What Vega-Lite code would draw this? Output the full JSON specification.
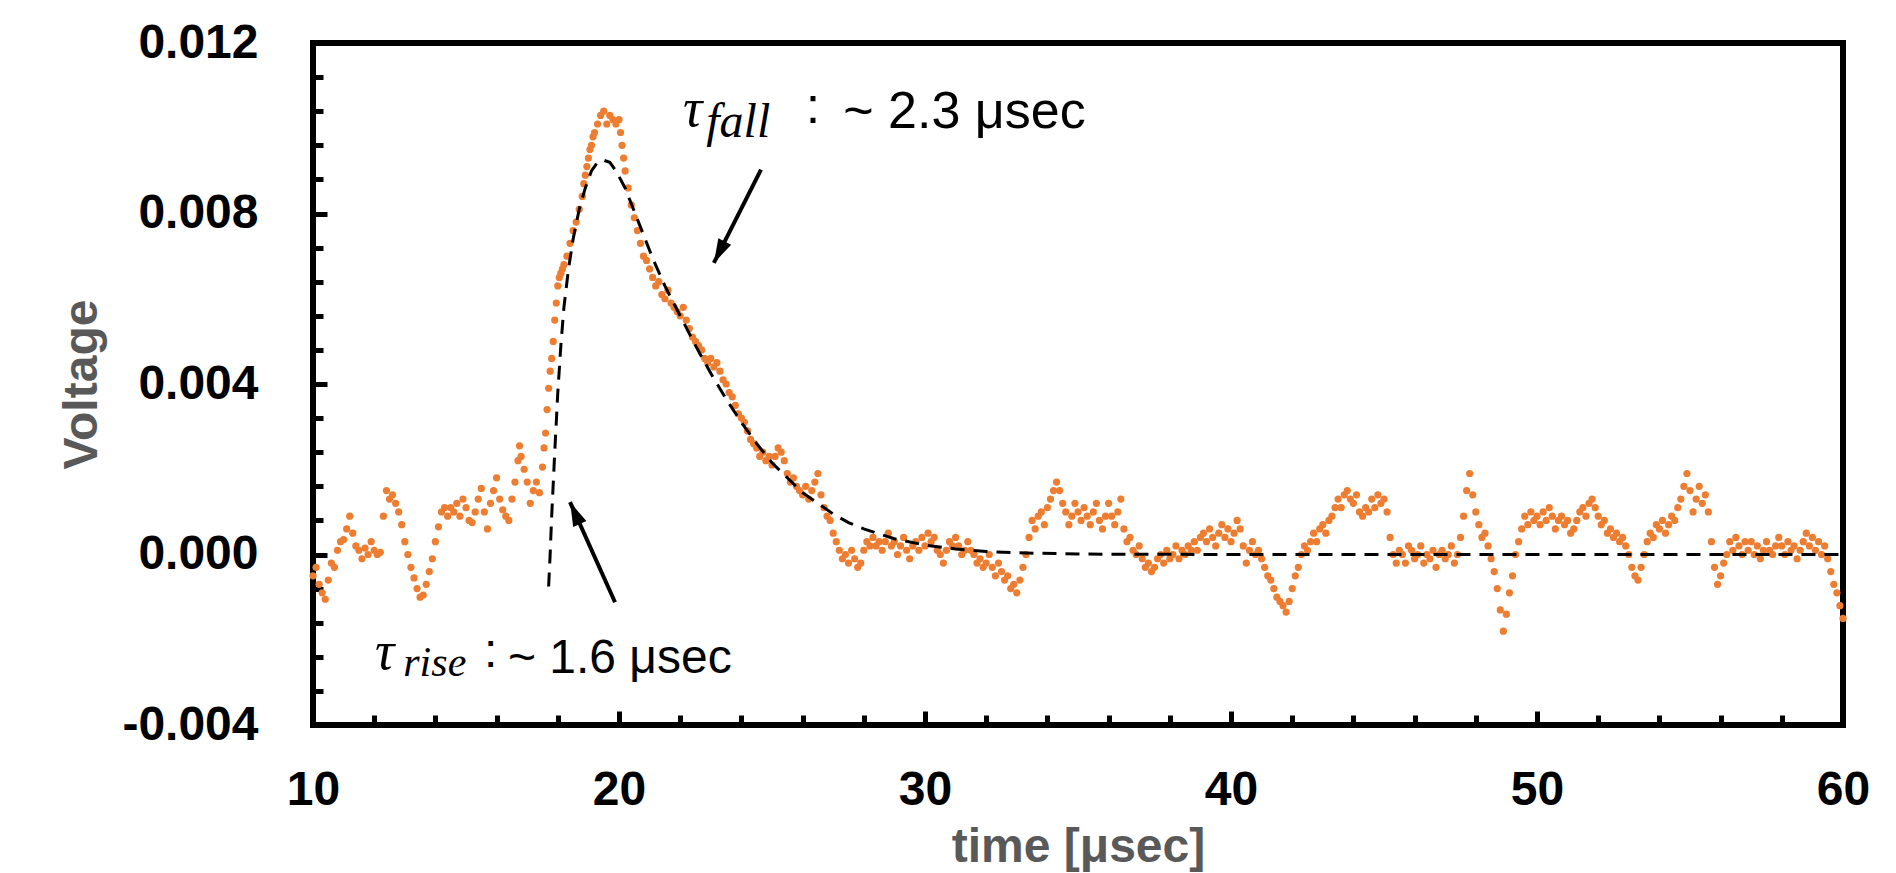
{
  "$schema": "https://vega.github.io/schema/vega-lite/v6.json",
  "width": 1530,
  "height": 682,
  "autosize": "none",
  "padding": {"left": 313, "top": 43, "right": 53, "bottom": 148},
  "background": "white",
  "config": {
    "view": {"stroke": "black", "strokeWidth": 6},
    "font": "Liberation Sans"
  },
  "datasets": {
    "trace": [
      {"t":10.0,"v":-0.0005},{"t":10.1,"v":-0.0003},{"t":10.2,"v":-0.0007},{"t":10.3,"v":-0.0009},{"t":10.4,"v":-0.00105},{"t":10.5,"v":-0.0006},{"t":10.6,"v":-0.0002},{"t":10.7,"v":-0.0003},{"t":10.8,"v":0.0001},{"t":10.9,"v":0.0003},
      {"t":11.0,"v":0.00035},{"t":11.1,"v":0.0006},{"t":11.2,"v":0.0009},{"t":11.3,"v":0.0005},{"t":11.4,"v":0.0002},{"t":11.5,"v":0.0001},{"t":11.6,"v":-0.0001},{"t":11.7,"v":0.00015},{"t":11.8,"v":0.0},{"t":11.9,"v":0.0003},
      {"t":12.0,"v":0.0001},{"t":12.1,"v":0.0},{"t":12.2,"v":0.00005},{"t":12.3,"v":0.0009},{"t":12.4,"v":0.0015},{"t":12.5,"v":0.0013},{"t":12.6,"v":0.0014},{"t":12.7,"v":0.0012},{"t":12.8,"v":0.001},{"t":12.9,"v":0.0007},
      {"t":13.0,"v":0.0003},{"t":13.1,"v":0.0},{"t":13.2,"v":-0.0003},{"t":13.3,"v":-0.00055},{"t":13.4,"v":-0.0008},{"t":13.5,"v":-0.001},{"t":13.6,"v":-0.00095},{"t":13.7,"v":-0.0007},{"t":13.8,"v":-0.0004},{"t":13.9,"v":-0.0001},
      {"t":14.0,"v":0.0003},{"t":14.1,"v":0.00065},{"t":14.2,"v":0.001},{"t":14.3,"v":0.0011},{"t":14.4,"v":0.0009},{"t":14.5,"v":0.0011},{"t":14.6,"v":0.001},{"t":14.7,"v":0.0012},{"t":14.8,"v":0.0009},{"t":14.9,"v":0.0013},
      {"t":15.0,"v":0.0011},{"t":15.1,"v":0.0008},{"t":15.2,"v":0.00075},{"t":15.3,"v":0.001},{"t":15.4,"v":0.0013},{"t":15.5,"v":0.00155},{"t":15.6,"v":0.001},{"t":15.7,"v":0.0006},{"t":15.8,"v":0.0012},{"t":15.9,"v":0.0015},
      {"t":16.0,"v":0.0018},{"t":16.1,"v":0.0013},{"t":16.2,"v":0.00105},{"t":16.3,"v":0.0009},{"t":16.4,"v":0.0008},{"t":16.5,"v":0.0013},{"t":16.6,"v":0.0017},{"t":16.7,"v":0.0022},{"t":16.75,"v":0.00255},{"t":16.8,"v":0.0023},{"t":16.9,"v":0.002},
      {"t":17.0,"v":0.0017},{"t":17.1,"v":0.0012},{"t":17.2,"v":0.0015},{"t":17.3,"v":0.0017},{"t":17.4,"v":0.00145},{"t":17.5,"v":0.00205},{"t":17.55,"v":0.0025},{"t":17.6,"v":0.00285},{"t":17.65,"v":0.0034},{"t":17.7,"v":0.0039},{"t":17.75,"v":0.0043},{"t":17.8,"v":0.0046},{"t":17.85,"v":0.005},{"t":17.9,"v":0.0055},{"t":17.95,"v":0.0059},
      {"t":18.0,"v":0.0063},{"t":18.05,"v":0.0065},{"t":18.1,"v":0.0066},{"t":18.15,"v":0.0067},{"t":18.2,"v":0.0068},{"t":18.3,"v":0.007},{"t":18.4,"v":0.0073},{"t":18.5,"v":0.0076},{"t":18.6,"v":0.0078},{"t":18.7,"v":0.0081},{"t":18.8,"v":0.0084},{"t":18.85,"v":0.0087},{"t":18.9,"v":0.0089},{"t":18.95,"v":0.0091},
      {"t":19.0,"v":0.0093},{"t":19.05,"v":0.0095},{"t":19.1,"v":0.0096},{"t":19.15,"v":0.0098},{"t":19.2,"v":0.0099},{"t":19.3,"v":0.0101},{"t":19.4,"v":0.0103},{"t":19.5,"v":0.0104},{"t":19.6,"v":0.0101},{"t":19.7,"v":0.0103},{"t":19.8,"v":0.0102},{"t":19.9,"v":0.0101},
      {"t":20.0,"v":0.0102},{"t":20.05,"v":0.0099},{"t":20.1,"v":0.0096},{"t":20.15,"v":0.0093},{"t":20.2,"v":0.009},{"t":20.3,"v":0.0086},{"t":20.4,"v":0.0082},{"t":20.5,"v":0.0079},{"t":20.6,"v":0.0076},{"t":20.7,"v":0.0073},{"t":20.8,"v":0.007},{"t":20.9,"v":0.0069},
      {"t":21.0,"v":0.0067},{"t":21.1,"v":0.0065},{"t":21.2,"v":0.0063},{"t":21.3,"v":0.0064},{"t":21.4,"v":0.0061},{"t":21.5,"v":0.006},{"t":21.6,"v":0.0062},{"t":21.7,"v":0.0059},{"t":21.8,"v":0.0058},{"t":21.9,"v":0.0057},
      {"t":22.0,"v":0.0056},{"t":22.1,"v":0.0058},{"t":22.2,"v":0.0055},{"t":22.3,"v":0.0053},{"t":22.4,"v":0.0051},{"t":22.5,"v":0.005},{"t":22.6,"v":0.0049},{"t":22.7,"v":0.0048},{"t":22.8,"v":0.0046},{"t":22.9,"v":0.0045},
      {"t":23.0,"v":0.0046},{"t":23.1,"v":0.0044},{"t":23.2,"v":0.0045},{"t":23.3,"v":0.0043},{"t":23.4,"v":0.0041},{"t":23.5,"v":0.004},{"t":23.6,"v":0.0038},{"t":23.7,"v":0.0037},{"t":23.8,"v":0.0035},{"t":23.9,"v":0.0033},
      {"t":24.0,"v":0.0032},{"t":24.1,"v":0.0031},{"t":24.2,"v":0.0029},{"t":24.3,"v":0.0027},{"t":24.4,"v":0.0026},{"t":24.5,"v":0.0025},{"t":24.6,"v":0.0023},{"t":24.7,"v":0.0024},{"t":24.8,"v":0.0022},{"t":24.9,"v":0.0023},
      {"t":25.0,"v":0.0021},{"t":25.1,"v":0.0023},{"t":25.2,"v":0.0025},{"t":25.3,"v":0.0024},{"t":25.4,"v":0.0022},{"t":25.5,"v":0.0019},{"t":25.6,"v":0.0017},{"t":25.7,"v":0.0018},{"t":25.8,"v":0.0016},{"t":25.9,"v":0.0015},
      {"t":26.0,"v":0.0014},{"t":26.1,"v":0.0016},{"t":26.2,"v":0.0013},{"t":26.3,"v":0.0015},{"t":26.4,"v":0.0017},{"t":26.5,"v":0.0019},{"t":26.6,"v":0.0014},{"t":26.7,"v":0.0011},{"t":26.8,"v":0.0009},{"t":26.9,"v":0.0008},
      {"t":27.0,"v":0.0005},{"t":27.1,"v":0.0003},{"t":27.2,"v":0.0001},{"t":27.3,"v":-0.0001},{"t":27.4,"v":0.0},{"t":27.5,"v":-0.0002},{"t":27.6,"v":0.0001},{"t":27.7,"v":-0.0001},{"t":27.8,"v":-0.0003},{"t":27.9,"v":-0.0002},
      {"t":28.0,"v":0.0001},{"t":28.1,"v":0.0003},{"t":28.2,"v":0.0002},{"t":28.3,"v":0.0004},{"t":28.4,"v":0.0002},{"t":28.5,"v":0.0003},{"t":28.6,"v":0.0001},{"t":28.7,"v":0.0003},{"t":28.8,"v":0.0005},{"t":28.9,"v":0.0002},
      {"t":29.0,"v":0.0003},{"t":29.1,"v":0.0},{"t":29.2,"v":0.0002},{"t":29.3,"v":0.0004},{"t":29.4,"v":0.0001},{"t":29.5,"v":-0.0001},{"t":29.6,"v":0.0002},{"t":29.7,"v":0.0003},{"t":29.8,"v":0.0001},{"t":29.9,"v":0.0004},
      {"t":30.0,"v":0.0002},{"t":30.1,"v":0.0005},{"t":30.2,"v":0.0003},{"t":30.3,"v":0.0004},{"t":30.4,"v":0.0001},{"t":30.5,"v":0.0},{"t":30.6,"v":-0.0002},{"t":30.7,"v":0.0001},{"t":30.8,"v":0.0003},{"t":30.9,"v":0.0002},
      {"t":31.0,"v":0.0004},{"t":31.1,"v":0.0002},{"t":31.2,"v":0.0},{"t":31.3,"v":0.0001},{"t":31.4,"v":0.0003},{"t":31.5,"v":0.0001},{"t":31.6,"v":0.0},{"t":31.7,"v":-0.0002},{"t":31.8,"v":-0.0001},{"t":31.9,"v":-0.0003},
      {"t":32.0,"v":-0.0002},{"t":32.1,"v":0.0},{"t":32.2,"v":-0.0003},{"t":32.3,"v":-0.0005},{"t":32.4,"v":-0.0002},{"t":32.5,"v":-0.0004},{"t":32.6,"v":-0.0006},{"t":32.7,"v":-0.0005},{"t":32.8,"v":-0.0008},{"t":32.9,"v":-0.0007},
      {"t":33.0,"v":-0.0009},{"t":33.1,"v":-0.0006},{"t":33.2,"v":-0.0003},{"t":33.3,"v":0.0},{"t":33.4,"v":0.0004},{"t":33.5,"v":0.0008},{"t":33.6,"v":0.0006},{"t":33.7,"v":0.0009},{"t":33.8,"v":0.001},{"t":33.9,"v":0.0007},
      {"t":34.0,"v":0.0011},{"t":34.1,"v":0.0013},{"t":34.2,"v":0.0015},{"t":34.3,"v":0.0017},{"t":34.4,"v":0.0015},{"t":34.5,"v":0.0012},{"t":34.6,"v":0.001},{"t":34.7,"v":0.0007},{"t":34.8,"v":0.0009},{"t":34.9,"v":0.0012},
      {"t":35.0,"v":0.001},{"t":35.1,"v":0.0008},{"t":35.2,"v":0.0011},{"t":35.3,"v":0.0009},{"t":35.4,"v":0.0007},{"t":35.5,"v":0.001},{"t":35.6,"v":0.0012},{"t":35.7,"v":0.0008},{"t":35.8,"v":0.0006},{"t":35.9,"v":0.0009},
      {"t":36.0,"v":0.0012},{"t":36.1,"v":0.0009},{"t":36.2,"v":0.0007},{"t":36.3,"v":0.001},{"t":36.4,"v":0.0013},{"t":36.5,"v":0.0006},{"t":36.6,"v":0.0003},{"t":36.7,"v":0.0004},{"t":36.8,"v":0.0001},{"t":36.9,"v":0.0},
      {"t":37.0,"v":0.0002},{"t":37.1,"v":-0.0001},{"t":37.2,"v":-0.0003},{"t":37.3,"v":-0.0002},{"t":37.4,"v":-0.0004},{"t":37.5,"v":-0.0003},{"t":37.6,"v":-0.0001},{"t":37.7,"v":0.0},{"t":37.8,"v":-0.0002},{"t":37.9,"v":0.0001},
      {"t":38.0,"v":-0.0001},{"t":38.1,"v":0.0},{"t":38.2,"v":0.0002},{"t":38.3,"v":-0.0001},{"t":38.4,"v":0.0001},{"t":38.5,"v":0.0},{"t":38.6,"v":0.0002},{"t":38.7,"v":0.0001},{"t":38.8,"v":0.0003},{"t":38.9,"v":0.0001},
      {"t":39.0,"v":0.0004},{"t":39.1,"v":0.0005},{"t":39.2,"v":0.0003},{"t":39.3,"v":0.0006},{"t":39.4,"v":0.0004},{"t":39.5,"v":0.0002},{"t":39.6,"v":0.0005},{"t":39.7,"v":0.0007},{"t":39.8,"v":0.0004},{"t":39.9,"v":0.0006},
      {"t":40.0,"v":0.0003},{"t":40.1,"v":0.0005},{"t":40.2,"v":0.0008},{"t":40.3,"v":0.0006},{"t":40.4,"v":0.0002},{"t":40.5,"v":-0.0002},{"t":40.6,"v":0.0001},{"t":40.7,"v":0.0003},{"t":40.8,"v":0.0},{"t":40.9,"v":0.0001},
      {"t":41.0,"v":-0.0001},{"t":41.1,"v":-0.0003},{"t":41.2,"v":-0.0005},{"t":41.3,"v":-0.0006},{"t":41.4,"v":-0.0008},{"t":41.5,"v":-0.001},{"t":41.6,"v":-0.0011},{"t":41.7,"v":-0.0012},{"t":41.8,"v":-0.00135},{"t":41.9,"v":-0.0011},
      {"t":42.0,"v":-0.0008},{"t":42.1,"v":-0.0005},{"t":42.2,"v":-0.0003},{"t":42.3,"v":0.0},{"t":42.4,"v":0.0002},{"t":42.5,"v":0.0001},{"t":42.6,"v":0.0003},{"t":42.7,"v":0.0005},{"t":42.8,"v":0.0003},{"t":42.9,"v":0.0006},
      {"t":43.0,"v":0.0007},{"t":43.1,"v":0.0005},{"t":43.2,"v":0.0008},{"t":43.3,"v":0.0009},{"t":43.4,"v":0.0011},{"t":43.5,"v":0.0013},{"t":43.6,"v":0.0011},{"t":43.7,"v":0.0014},{"t":43.8,"v":0.0015},{"t":43.9,"v":0.0013},
      {"t":44.0,"v":0.0012},{"t":44.1,"v":0.0014},{"t":44.2,"v":0.001},{"t":44.3,"v":0.0009},{"t":44.4,"v":0.0011},{"t":44.5,"v":0.001},{"t":44.6,"v":0.0013},{"t":44.7,"v":0.0011},{"t":44.8,"v":0.0014},{"t":44.9,"v":0.0012},
      {"t":45.0,"v":0.0013},{"t":45.1,"v":0.001},{"t":45.2,"v":0.0004},{"t":45.3,"v":0.0},{"t":45.4,"v":-0.0002},{"t":45.5,"v":0.0001},{"t":45.6,"v":0.0},{"t":45.7,"v":-0.0002},{"t":45.8,"v":0.0002},{"t":45.9,"v":0.0001},
      {"t":46.0,"v":-0.0001},{"t":46.1,"v":0.0},{"t":46.2,"v":0.0002},{"t":46.3,"v":-0.0002},{"t":46.4,"v":0.0},{"t":46.5,"v":-0.0001},{"t":46.6,"v":0.0001},{"t":46.7,"v":-0.0003},{"t":46.8,"v":0.0},{"t":46.9,"v":0.0001},
      {"t":47.0,"v":-0.0001},{"t":47.1,"v":0.0},{"t":47.2,"v":0.0002},{"t":47.3,"v":-0.0002},{"t":47.4,"v":0.0},{"t":47.5,"v":0.0004},{"t":47.6,"v":0.0009},{"t":47.7,"v":0.0015},{"t":47.8,"v":0.0019},{"t":47.9,"v":0.0014},
      {"t":48.0,"v":0.001},{"t":48.1,"v":0.0007},{"t":48.2,"v":0.0004},{"t":48.3,"v":0.0005},{"t":48.4,"v":0.0002},{"t":48.5,"v":-0.0001},{"t":48.6,"v":-0.0004},{"t":48.7,"v":-0.0008},{"t":48.8,"v":-0.0013},{"t":48.9,"v":-0.0018},
      {"t":49.0,"v":-0.0014},{"t":49.1,"v":-0.0009},{"t":49.2,"v":-0.0005},{"t":49.3,"v":0.0},{"t":49.4,"v":0.0003},{"t":49.5,"v":0.0006},{"t":49.6,"v":0.0009},{"t":49.7,"v":0.0007},{"t":49.8,"v":0.001},{"t":49.9,"v":0.0008},
      {"t":50.0,"v":0.0009},{"t":50.1,"v":0.0007},{"t":50.2,"v":0.001},{"t":50.3,"v":0.0008},{"t":50.4,"v":0.0011},{"t":50.5,"v":0.0009},{"t":50.6,"v":0.0006},{"t":50.7,"v":0.0008},{"t":50.8,"v":0.0009},{"t":50.9,"v":0.0007},
      {"t":51.0,"v":0.0008},{"t":51.1,"v":0.0005},{"t":51.2,"v":0.0006},{"t":51.3,"v":0.0008},{"t":51.4,"v":0.001},{"t":51.5,"v":0.0011},{"t":51.6,"v":0.0009},{"t":51.7,"v":0.0012},{"t":51.8,"v":0.0013},{"t":51.9,"v":0.0011},
      {"t":52.0,"v":0.0009},{"t":52.1,"v":0.0007},{"t":52.2,"v":0.0008},{"t":52.3,"v":0.0005},{"t":52.4,"v":0.0006},{"t":52.5,"v":0.0004},{"t":52.6,"v":0.0005},{"t":52.7,"v":0.0003},{"t":52.8,"v":0.0004},{"t":52.9,"v":0.0002},
      {"t":53.0,"v":0.0},{"t":53.1,"v":-0.0003},{"t":53.2,"v":-0.0005},{"t":53.3,"v":-0.0006},{"t":53.4,"v":-0.0003},{"t":53.5,"v":0.0},{"t":53.6,"v":0.0003},{"t":53.7,"v":0.0005},{"t":53.8,"v":0.0004},{"t":53.9,"v":0.0007},
      {"t":54.0,"v":0.0006},{"t":54.1,"v":0.0008},{"t":54.2,"v":0.0005},{"t":54.3,"v":0.0007},{"t":54.4,"v":0.0009},{"t":54.5,"v":0.0008},{"t":54.6,"v":0.0011},{"t":54.7,"v":0.0013},{"t":54.8,"v":0.0016},{"t":54.9,"v":0.0019},
      {"t":55.0,"v":0.0015},{"t":55.1,"v":0.001},{"t":55.2,"v":0.0013},{"t":55.3,"v":0.0016},{"t":55.4,"v":0.0012},{"t":55.5,"v":0.0014},{"t":55.6,"v":0.001},{"t":55.7,"v":0.0003},{"t":55.8,"v":-0.0003},{"t":55.9,"v":-0.0007},
      {"t":56.0,"v":-0.0005},{"t":56.1,"v":-0.0002},{"t":56.2,"v":0.0},{"t":56.3,"v":0.0003},{"t":56.4,"v":0.0001},{"t":56.5,"v":0.0004},{"t":56.6,"v":0.0002},{"t":56.7,"v":0.0},{"t":56.8,"v":0.0003},{"t":56.9,"v":0.0001},
      {"t":57.0,"v":0.0003},{"t":57.1,"v":0.0},{"t":57.2,"v":0.0002},{"t":57.3,"v":-0.0001},{"t":57.4,"v":0.0001},{"t":57.5,"v":0.0003},{"t":57.6,"v":0.0001},{"t":57.7,"v":0.0},{"t":57.8,"v":0.0002},{"t":57.9,"v":0.0004},
      {"t":58.0,"v":0.0002},{"t":58.1,"v":0.0},{"t":58.2,"v":0.0003},{"t":58.3,"v":0.0001},{"t":58.4,"v":0.0002},{"t":58.5,"v":-0.0001},{"t":58.6,"v":0.0001},{"t":58.7,"v":0.0003},{"t":58.8,"v":0.0005},{"t":58.9,"v":0.0002},
      {"t":59.0,"v":0.0004},{"t":59.1,"v":0.0001},{"t":59.2,"v":0.0003},{"t":59.3,"v":0.0},{"t":59.4,"v":0.0002},{"t":59.5,"v":-0.0001},{"t":59.6,"v":-0.0004},{"t":59.7,"v":-0.0007},{"t":59.8,"v":-0.0009},{"t":59.9,"v":-0.0012},
      {"t":60.0,"v":-0.0015}
    ],
    "fit": [
      {"t":17.7,"v":-0.00075},{"t":17.75,"v":0.0},{"t":17.8,"v":0.0009},{"t":17.9,"v":0.0024},{"t":18.0,"v":0.0038},{"t":18.1,"v":0.0049},{"t":18.2,"v":0.0058},{"t":18.35,"v":0.0067},{"t":18.5,"v":0.0074},{"t":18.7,"v":0.0081},{"t":18.9,"v":0.0086},{"t":19.1,"v":0.009},{"t":19.3,"v":0.0092},{"t":19.5,"v":0.00925},{"t":19.7,"v":0.0092},{"t":19.9,"v":0.009},{"t":20.2,"v":0.0086},{"t":20.5,"v":0.00805},{"t":20.8,"v":0.0075},{"t":21.1,"v":0.00695},{"t":21.5,"v":0.0063},{"t":22.0,"v":0.0056},{"t":22.5,"v":0.0049},{"t":23.0,"v":0.00425},{"t":23.5,"v":0.00365},{"t":24.0,"v":0.0031},{"t":24.5,"v":0.0026},{"t":25.0,"v":0.00215},{"t":25.5,"v":0.0018},{"t":26.0,"v":0.00145},{"t":26.5,"v":0.0012},{"t":27.0,"v":0.00095},{"t":27.5,"v":0.00075},{"t":28.0,"v":0.0006},{"t":29.0,"v":0.00037},{"t":30.0,"v":0.00022},{"t":31.0,"v":0.00013},{"t":32.0,"v":0.00007},{"t":33.0,"v":0.00004},{"t":35.0,"v":0.00001},{"t":40.0,"v":0.0},{"t":60.0,"v":0.0}
    ],
    "arrows": [
      {"name":"rise","t":19.87,"v":-0.00112,"t2":18.4,"v2":0.00123},
      {"name":"fall","t":24.64,"v":0.00903,"t2":23.1,"v2":0.00684}
    ],
    "labels": [
      {"group":"rise","part":"tau","t":12.03,"v":-0.00268,"s":"τ"},
      {"group":"rise","part":"sub","t":12.95,"v":-0.00286,"s":"rise"},
      {"group":"rise","part":"note","t":15.59,"v":-0.00264,"s":":"},
      {"group":"rise","part":"note","t":16.37,"v":-0.00278,"s":"~ 1.6 μsec"},
      {"group":"fall","part":"tau","t":22.09,"v":0.01005,"s":"τ"},
      {"group":"fall","part":"sub","t":22.85,"v":0.0098,"s":"fall"},
      {"group":"fall","part":"note","t":26.1,"v":0.01013,"s":":"},
      {"group":"fall","part":"note","t":27.33,"v":0.01,"s":"~ 2.3 μsec"}
    ]
  },
  "layer": [
    {
      "data": {"name": "trace"},
      "mark": {"type": "circle", "size": 52, "color": "#ED7D31", "opacity": 1},
      "encoding": {
        "x": {
          "field": "t", "type": "quantitative",
          "scale": {"domain": [10, 60], "nice": false, "zero": false},
          "axis": {
            "title": "time [μsec]",
            "values": [10,12,14,16,18,20,22,24,26,28,30,32,34,36,38,40,42,44,46,48,50,52,54,56,58,60],
            "tickCount": 100,
            "labelExpr": "datum.value % 10 === 0 ? format(datum.value, 'd') : ''",
            "labelOverlap": false,
            "labelFlush": false,
            "labelFont": "Liberation Sans",
            "labelFontWeight": "bold",
            "labelFontSize": 48,
            "labelColor": "black",
            "labelBaseline": "top",
            "labelPadding": 55,
            "domain": false,
            "grid": false,
            "ticks": true,
            "tickColor": "black",
            "tickWidth": 5,
            "tickSize": {"condition": {"test": "datum.value % 10 === 0", "value": -14}, "value": -10},
            "titleFont": "Liberation Sans",
            "titleFontWeight": "bold",
            "titleFontSize": 48,
            "titleColor": "#595959",
            "titlePadding": 5
          }
        },
        "y": {
          "field": "v", "type": "quantitative",
          "scale": {"domain": [-0.004, 0.012], "nice": false, "zero": false},
          "axis": {
            "title": "Voltage",
            "values": [-0.004,-0.0032,-0.0024,-0.0016,-0.0008,0,0.0008,0.0016,0.0024,0.0032,0.004,0.0048,0.0056,0.0064,0.0072,0.008,0.0088,0.0096,0.0104,0.0112,0.012],
            "tickCount": 100,
            "labelExpr": "abs(datum.value*250 - round(datum.value*250)) < 0.001 ? replace(format(datum.value, '.3f'), '−', '-') : ''",
            "labelOverlap": false,
            "labelFlush": false,
            "labelFont": "Liberation Sans",
            "labelFontWeight": "bold",
            "labelFontSize": 48,
            "labelColor": "black",
            "labelPadding": 69,
            "domain": false,
            "grid": false,
            "ticks": true,
            "tickColor": "black",
            "tickWidth": 5,
            "tickSize": {"condition": {"test": "abs(datum.value*250 - round(datum.value*250)) < 0.001", "value": -14}, "value": -10},
            "titleFont": "Liberation Sans",
            "titleFontWeight": "bold",
            "titleFontSize": 48,
            "titleColor": "#595959",
            "titlePadding": 15
          }
        }
      }
    },
    {
      "data": {"name": "fit"},
      "mark": {"type": "line", "color": "black", "strokeWidth": 3, "strokeDash": [14, 9]},
      "encoding": {
        "x": {"field": "t", "type": "quantitative"},
        "y": {"field": "v", "type": "quantitative"}
      }
    },
    {
      "data": {"name": "arrows"},
      "mark": {"type": "rule", "color": "black", "strokeWidth": 4},
      "encoding": {
        "x": {"field": "t", "type": "quantitative"},
        "y": {"field": "v", "type": "quantitative"},
        "x2": {"field": "t2"},
        "y2": {"field": "v2"}
      }
    },
    {
      "data": {"name": "arrows"},
      "transform": [{"filter": "datum.name === 'rise'"}],
      "mark": {"type": "point", "shape": "M0,0L-0.3,1L0.3,1Z", "filled": true, "color": "black", "opacity": 1, "size": 2304, "angle": 336},
      "encoding": {
        "x": {"field": "t2", "type": "quantitative"},
        "y": {"field": "v2", "type": "quantitative"}
      }
    },
    {
      "data": {"name": "arrows"},
      "transform": [{"filter": "datum.name === 'fall'"}],
      "mark": {"type": "point", "shape": "M0,0L-0.3,1L0.3,1Z", "filled": true, "color": "black", "opacity": 1, "size": 2304, "angle": 207},
      "encoding": {
        "x": {"field": "t2", "type": "quantitative"},
        "y": {"field": "v2", "type": "quantitative"}
      }
    },
    {
      "data": {"name": "labels"},
      "transform": [{"filter": "datum.part === 'tau'"}],
      "mark": {"type": "text", "font": "Liberation Serif", "fontStyle": "italic", "fontSize": 54, "align": "left", "baseline": "alphabetic", "color": "black"},
      "encoding": {
        "x": {"field": "t", "type": "quantitative"},
        "y": {"field": "v", "type": "quantitative"},
        "text": {"field": "s"}
      }
    },
    {
      "data": {"name": "labels"},
      "transform": [{"filter": "datum.part === 'sub' && datum.group === 'rise'"}],
      "mark": {"type": "text", "font": "Liberation Serif", "fontStyle": "italic", "fontSize": 42, "align": "left", "baseline": "alphabetic", "color": "black"},
      "encoding": {
        "x": {"field": "t", "type": "quantitative"},
        "y": {"field": "v", "type": "quantitative"},
        "text": {"field": "s"}
      }
    },
    {
      "data": {"name": "labels"},
      "transform": [{"filter": "datum.part === 'sub' && datum.group === 'fall'"}],
      "mark": {"type": "text", "font": "Liberation Serif", "fontStyle": "italic", "fontSize": 48, "align": "left", "baseline": "alphabetic", "color": "black"},
      "encoding": {
        "x": {"field": "t", "type": "quantitative"},
        "y": {"field": "v", "type": "quantitative"},
        "text": {"field": "s"}
      }
    },
    {
      "data": {"name": "labels"},
      "transform": [{"filter": "datum.part === 'note' && datum.group === 'rise'"}],
      "mark": {"type": "text", "font": "Liberation Sans", "fontSize": 48, "align": "left", "baseline": "alphabetic", "color": "black"},
      "encoding": {
        "x": {"field": "t", "type": "quantitative"},
        "y": {"field": "v", "type": "quantitative"},
        "text": {"field": "s"}
      }
    },
    {
      "data": {"name": "labels"},
      "transform": [{"filter": "datum.part === 'note' && datum.group === 'fall'"}],
      "mark": {"type": "text", "font": "Liberation Sans", "fontSize": 52, "align": "left", "baseline": "alphabetic", "color": "black"},
      "encoding": {
        "x": {"field": "t", "type": "quantitative"},
        "y": {"field": "v", "type": "quantitative"},
        "text": {"field": "s"}
      }
    }
  ]
}
